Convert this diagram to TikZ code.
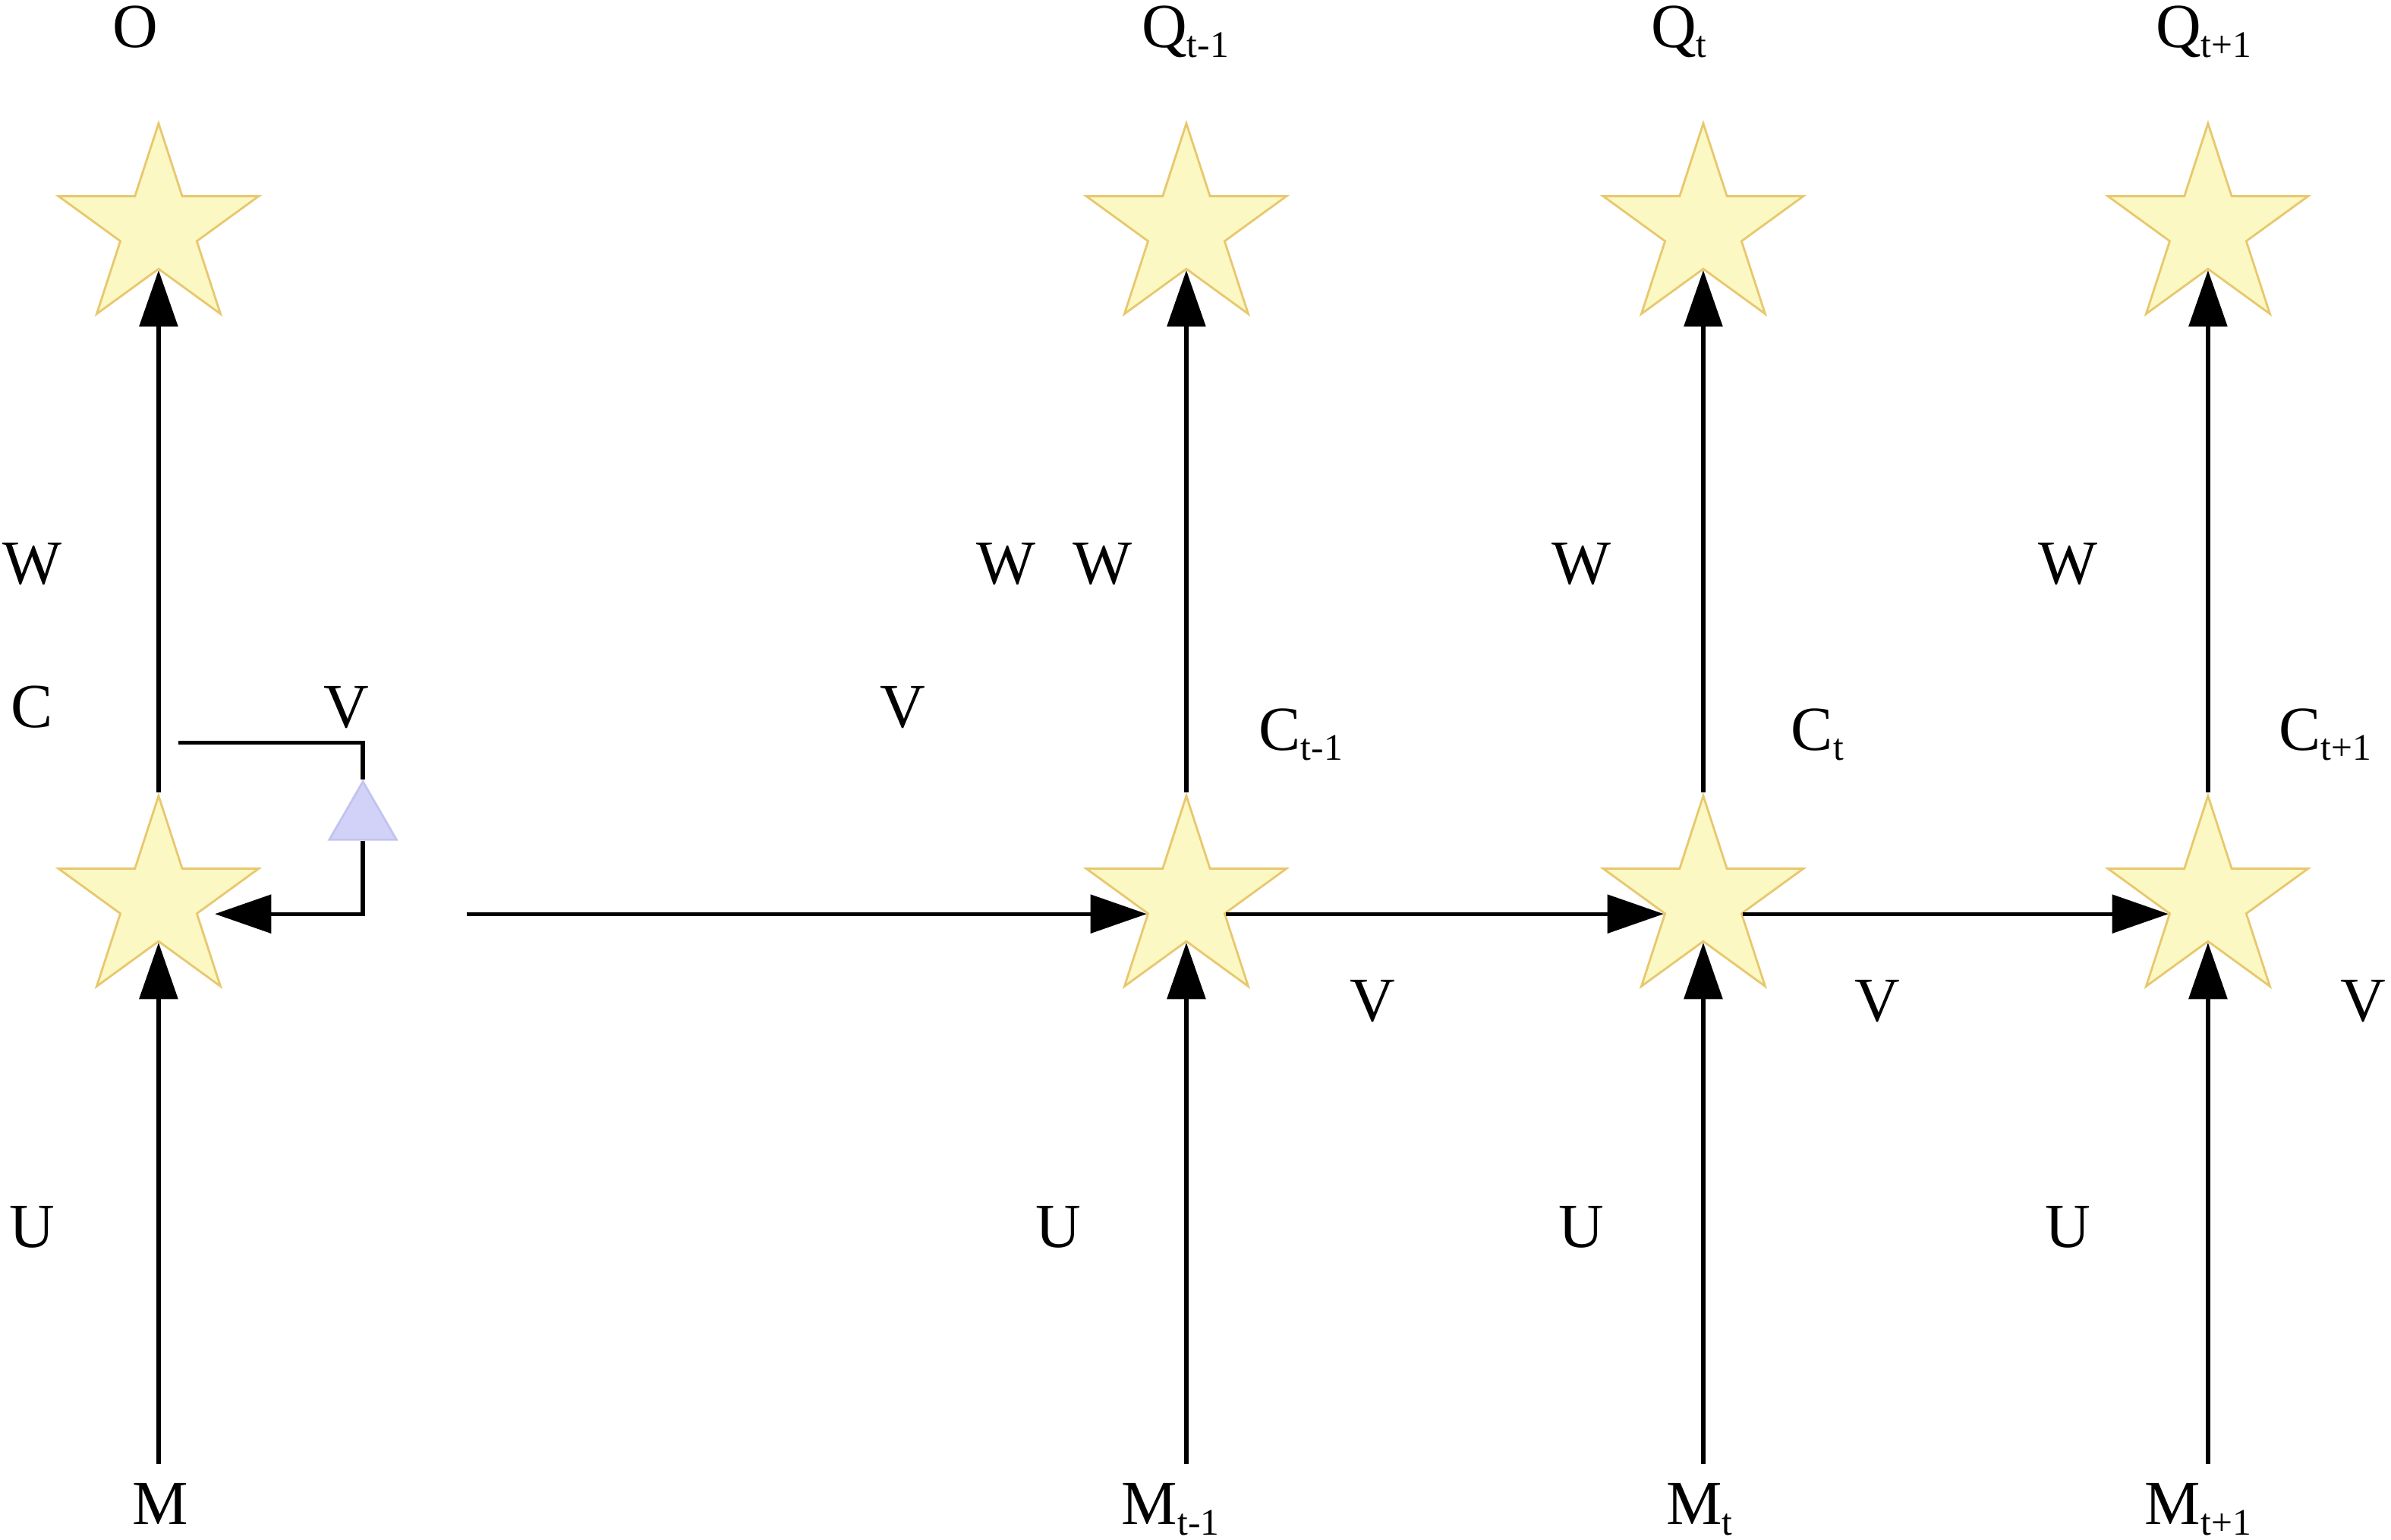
\documentclass[tikz,border=0pt]{standalone}
\usepackage{fontspec}
\setmainfont{Liberation Serif}
\usepackage{tikz}
\usetikzlibrary{arrows.meta, shapes.geometric}
\definecolor{starfill}{RGB}{252,248,196}
\definecolor{stardraw}{RGB}{232,200,110}
\definecolor{trifill}{RGB}{210,210,248}
\definecolor{tridraw}{RGB}{195,195,240}
\newcommand{\lowsub}[1]{\raisebox{-1.9pt}{\fontsize{7}{8}\selectfont #1}}

\begin{document}
\begin{tikzpicture}[
    x=0.01cm, y=-0.01cm,
    link/.style={line width=0.75pt, -{Triangle[length=0.37cm, width=0.25cm]}},
    plain line/.style={line width=0.75pt},
    cell/.style={star, star points=5, star point ratio=2.618, minimum size=1.38cm,
    inner sep=0pt, fill=starfill, draw=stardraw, line width=0.4pt},
    gate/.style={regular polygon, regular polygon sides=3, minimum size=0.508cm,
    inner sep=0pt, fill=trifill, draw=tridraw, line width=0.4pt},
    every node/.style={color=black, inner sep=0pt, font=\fontsize{11.7}{14}\selectfont}
    ]
\useasboundingbox (0,0) rectangle (1568,1010);
% cells and outputs
\node[cell] (c0) at (104,591) {};
\node[cell] (o0) at (104,150) {};
\node[cell] (c1) at (778,591) {};
\node[cell] (q1) at (778,150) {};
\node[cell] (c2) at (1117,591) {};
\node[cell] (q2) at (1117,150) {};
\node[cell] (c3) at (1448,591) {};
\node[cell] (q3) at (1448,150) {};
\node[gate] (g0) at (238,538) {};
% labels
\node[anchor=base] (lO) at (89,31) {O};
\node[anchor=base west] (lQ1) at (748,31) {Q\lowsub{t-1}};
\node[anchor=base west] (lQ2) at (1082,31) {Q\lowsub{t}};
\node[anchor=base west] (lQ3) at (1413,31) {Q\lowsub{t+1}};
\node[anchor=base] (lW0) at (21,383) {W};
\node[anchor=base] (lWa) at (660,383) {W};
\node[anchor=base] (lW1) at (723,383) {W};
\node[anchor=base] (lW2) at (1037,383) {W};
\node[anchor=base] (lW3) at (1356,383) {W};
\node[anchor=base] (lC0) at (21,477) {C};
\node[anchor=base] (lV0) at (227,477) {V};
\node[anchor=base] (lVa) at (592,477) {V};
\node[anchor=base west] (lC1) at (825,492) {C\lowsub{t-1}};
\node[anchor=base west] (lC2) at (1174,492) {C\lowsub{t}};
\node[anchor=base west] (lC3) at (1494,492) {C\lowsub{t+1}};
\node[anchor=base] (lV1) at (900,670) {V};
\node[anchor=base] (lV2) at (1231,670) {V};
\node[anchor=base] (lV3) at (1550,670) {V};
\node[anchor=base] (lU0) at (21,818) {U};
\node[anchor=base] (lU1) at (694,818) {U};
\node[anchor=base] (lU2) at (1037,818) {U};
\node[anchor=base] (lU3) at (1356,818) {U};
\node[anchor=base] (lM0) at (105,1000) {M};
\node[anchor=base west] (lM1) at (735,1000) {M\lowsub{t-1}};
\node[anchor=base west] (lM2) at (1092,1000) {M\lowsub{t}};
\node[anchor=base west] (lM3) at (1406,1000) {M\lowsub{t+1}};
% free ends
\coordinate (m0) at (104,960);
\coordinate (m1) at (778,960);
\coordinate (m2) at (1117,960);
\coordinate (m3) at (1448,960);
\coordinate (loop) at (117,487);
\coordinate (fx) at (306,0);
% inputs
\draw[link] (m0) -- (c0.inner point 3);
\draw[link] (m1) -- (c1.inner point 3);
\draw[link] (m2) -- (c2.inner point 3);
\draw[link] (m3) -- (c3.inner point 3);
% outputs
\draw[link] (c0.outer point 1) -- (o0.inner point 3);
\draw[link] (c1.outer point 1) -- (q1.inner point 3);
\draw[link] (c2.outer point 1) -- (q2.inner point 3);
\draw[link] (c3.outer point 1) -- (q3.inner point 3);
% recurrence
\draw[plain line] (loop) -| (g0.corner 1);
\draw[link, shorten >=0.11cm] (g0.side 2) |- (c0.inner point 4);
\draw[link] (c1.inner point 2 -| fx) -- (c1.inner point 2);
\draw[link] (c1.inner point 4) -- (c2.inner point 2);
\draw[link] (c2.inner point 4) -- (c3.inner point 2);
\end{tikzpicture}
\end{document}
